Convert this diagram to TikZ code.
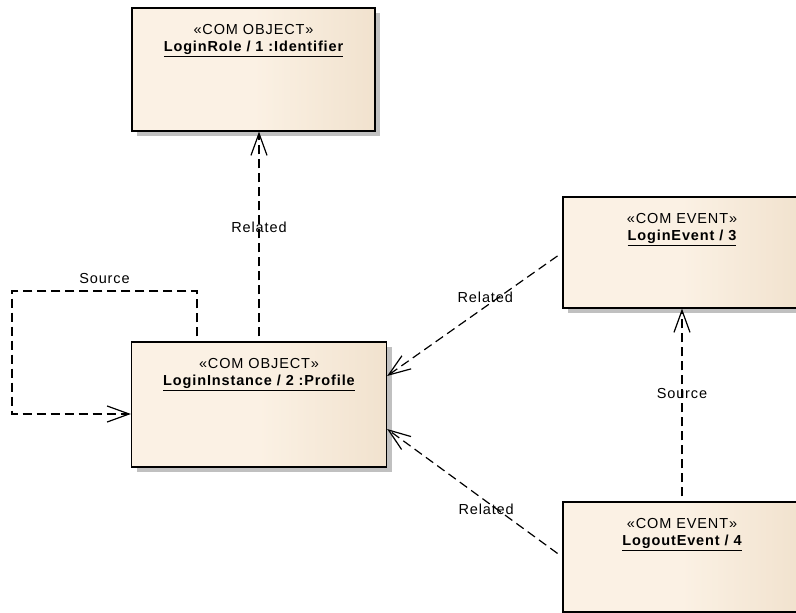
\documentclass[tikz,border=0pt]{standalone}
\usepackage{fontspec}
\setmainfont{Liberation Sans}[LetterSpace=6]
\usetikzlibrary{arrows.meta,shadows,positioning}
\definecolor{boxlight}{RGB}{251,241,228}
\definecolor{boxdark}{RGB}{231,211,184}
\definecolor{boxshadow}{RGB}{192,192,192}
\pgfdeclarehorizontalshading{boxfill}{100bp}{color(0bp)=(boxlight); color(50bp)=(boxlight); color(100bp)=(boxdark)}
% stereotype on top, underlined instance name below
\newcommand*{\umltext}[4]{\parbox[c][#4][t]{#3}{\centering\vspace*{16pt}%
  «#1»\\\textbf{\underline{#2}}}}

\begin{document}
\begin{tikzpicture}[x=1pt, y=-1pt,
uml_box/.style ={rectangle, draw=black, line width=1.2pt, shading=boxfill, inner sep=0pt, font=\fontsize{14.5}{17.5}\selectfont, drop shadow={shadow xshift=5pt, shadow yshift=-5pt, fill=boxshadow, opacity=1}},
dep_line/.style ={draw, line width=1.2pt, dash pattern=on 9pt off 5pt, shorten <=5pt, -{Straight Barb[length=22pt, width=16pt, line width=1.2pt]}},
dep_label/.style ={font=\fontsize{14.5}{17}\selectfont, inner sep=1pt}]
  \useasboundingbox (0,0) rectangle (796,613);
  % objects - left column
    \node [uml_box] (role) at (253.5,69.5) {\umltext{COM OBJECT}{LoginRole / 1 :Identifier}{243pt}{123pt}};
    \node [uml_box] (inst) at (259,404.5) {\umltext{COM OBJECT}{LoginInstance / 2 :Profile}{255pt}{125pt}};
  % events - right column
    \node [uml_box] (evt) at (682,252.5) {\umltext{COM EVENT}{LoginEvent / 3}{238pt}{111pt}};
    \node [uml_box] (out) at (682,557) {\umltext{COM EVENT}{LogoutEvent / 4}{238pt}{110pt}};
  % corner of the self loop
    \coordinate (loop_top) at (12,291);
  % connecting nodes with dependencies
    \path[dep_line] (inst.north) -- (inst.north |- role.south)
      node[dep_label, midway, yshift=9.5pt] {Related};
    \path[dep_line] ([xshift=-62pt]inst.north) |- node[dep_label, pos=0.75, yshift=12pt] {Source} (loop_top)
      |- ([yshift=-9.5pt]inst.west);
    \path[dep_line, shorten <=6pt] (evt.west) -- ([yshift=28.5pt]inst.east)
      node[dep_label, pos=0.44, yshift=10pt] {Related};
    \path[dep_line, shorten <=6pt] (out.west) -- ([yshift=-24.5pt]inst.east)
      node[dep_label, pos=0.435, yshift=-7.5pt] {Related};
    \path[dep_line] (out.north) -- (evt.south)
      node[dep_label, midway, yshift=11pt] {Source};
\end{tikzpicture}
\end{document}
